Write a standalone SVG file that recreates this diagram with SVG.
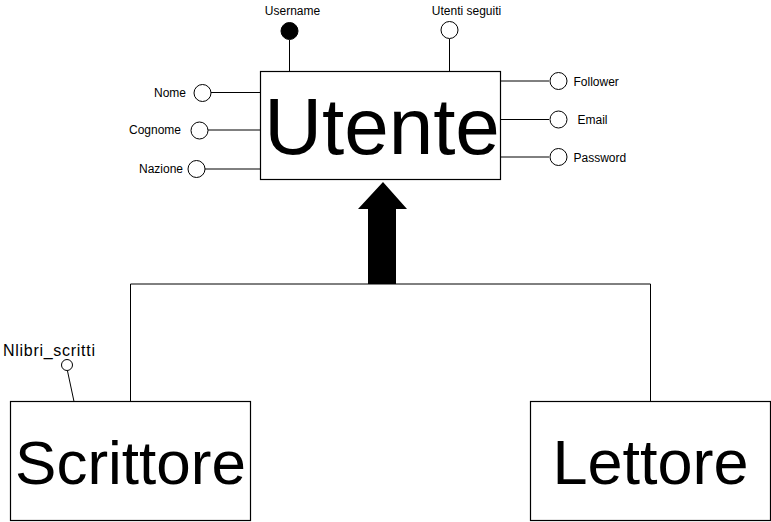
<svg xmlns="http://www.w3.org/2000/svg" width="771" height="522" viewBox="0 0 771 522">
<style>
.box{fill:#fff;stroke:#000;stroke-width:1.2}
.ln{stroke:#000;stroke-width:1;fill:none}
.att{fill:#fff;stroke:#000;stroke-width:1}
.key{fill:#000;stroke:#000;stroke-width:1}
.lbl{font-family:"Liberation Sans",Arial,sans-serif;font-size:12px;fill:#000}
.big{font-family:"Liberation Sans",Arial,sans-serif;fill:#000;text-anchor:middle}
</style>
<rect width="771" height="522" fill="#fff"/>
<g id="connectors">
<line class="ln" x1="289.5" y1="40" x2="289.5" y2="71.5"/>
<line class="ln" x1="449.5" y1="39" x2="449.5" y2="71.5"/>
<line class="ln" x1="211" y1="92.5" x2="260.5" y2="92.5"/>
<line class="ln" x1="208" y1="130" x2="260.5" y2="130"/>
<line class="ln" x1="205" y1="169" x2="260.5" y2="169"/>
<line class="ln" x1="500.5" y1="81" x2="549" y2="81"/>
<line class="ln" x1="500.5" y1="119.5" x2="549" y2="119.5"/>
<line class="ln" x1="500.5" y1="157" x2="549" y2="157"/>
<line class="ln" x1="67.5" y1="371" x2="74" y2="401.5"/>
<polyline class="ln" points="130.5,401.5 130.5,284 650.5,284 650.5,401.5"/>
<polygon points="383,182 407,209 396,209 396,284 368,284 368,209 358,209" fill="#000"/>
</g>
<g id="utente">
<rect class="box" x="260.5" y="71.5" width="240" height="108"/>
<text class="big" x="382" y="154" font-size="80">Utente</text>
</g>
<g id="username">
<circle class="key" cx="289.5" cy="31" r="8.5"/>
<text class="lbl" x="292.5" y="15" text-anchor="middle">Username</text>
</g>
<g id="utenti-seguiti">
<circle class="att" cx="449.5" cy="30" r="8.5"/>
<text class="lbl" x="466.5" y="15" text-anchor="middle">Utenti seguiti</text>
</g>
<g id="nome">
<circle class="att" cx="202.5" cy="93" r="8.5"/>
<text class="lbl" x="186" y="97" text-anchor="end">Nome</text>
</g>
<g id="cognome">
<circle class="att" cx="199.5" cy="130.5" r="8.5"/>
<text class="lbl" x="181" y="134" text-anchor="end">Cognome</text>
</g>
<g id="nazione">
<circle class="att" cx="196.5" cy="169" r="8.5"/>
<text class="lbl" x="183" y="173" text-anchor="end">Nazione</text>
</g>
<g id="follower">
<circle class="att" cx="558.5" cy="81" r="8.5"/>
<text class="lbl" x="573.5" y="85.5">Follower</text>
</g>
<g id="email">
<circle class="att" cx="558.5" cy="119.5" r="8.5"/>
<text class="lbl" x="577.5" y="124">Email</text>
</g>
<g id="password">
<circle class="att" cx="558.5" cy="157" r="8.5"/>
<text class="lbl" x="573.5" y="161.5">Password</text>
</g>
<g id="scrittore">
<rect class="box" x="10.5" y="401.5" width="240" height="119"/>
<text class="big" x="130.5" y="484" font-size="62">Scrittore</text>
</g>
<g id="nlibri-scritti">
<circle class="att" cx="67" cy="365" r="5.5"/>
<text x="3" y="356" font-family="Liberation Sans, Arial, sans-serif" font-size="16" textLength="92" fill="#000">Nlibri_scritti</text>
</g>
<g id="lettore">
<rect class="box" x="530.5" y="401.5" width="240" height="119"/>
<text class="big" x="650.5" y="484" font-size="63">Lettore</text>
</g>
</svg>
